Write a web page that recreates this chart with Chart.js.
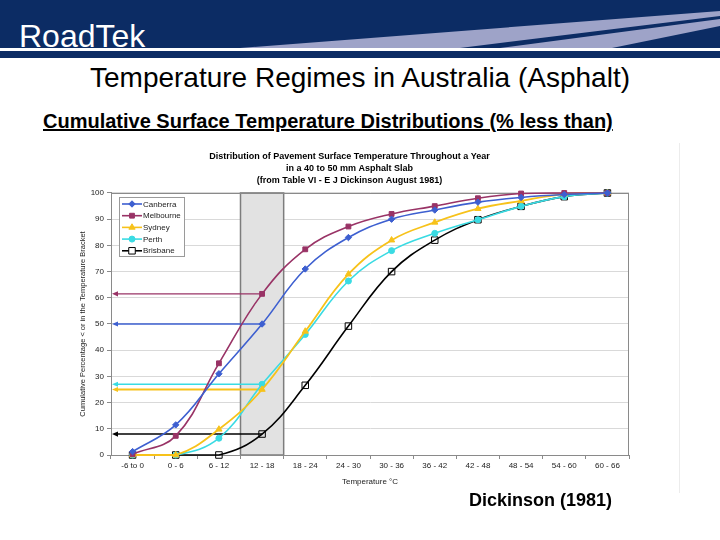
<!DOCTYPE html>
<html>
<head>
<meta charset="utf-8">
<script src="https://cdn.jsdelivr.net/npm/chart.js@4"></script>
<style>
html,body{margin:0;padding:0;background:#fff;}
#page{position:relative;width:720px;height:540px;overflow:hidden;font-family:'Liberation Sans',Arial,sans-serif;background:#fff;}
#banner{position:absolute;left:0;top:0;width:720px;height:48px;background:#0c2c64;}
#stripe{position:absolute;left:0;top:51px;width:720px;height:7px;background:#0c2c64;}
#swoosh{position:absolute;left:0;top:0;}
#brand{position:absolute;left:19px;top:20px;font-size:32px;line-height:32px;color:#fff;white-space:nowrap;}
#title{position:absolute;left:0;width:720px;top:64px;font-size:28px;line-height:28px;text-align:center;color:#000;white-space:nowrap;}
#sub{position:absolute;left:43px;top:111px;font-size:20px;line-height:20px;font-weight:bold;text-decoration:underline;color:#000;white-space:nowrap;}
#src{position:absolute;left:469px;top:491px;font-size:18px;line-height:18px;font-weight:bold;color:#000;white-space:nowrap;}
#frame{position:absolute;left:679px;top:143px;width:1px;height:350px;background:#ececec;}
#wrap{position:absolute;left:70px;top:140px;width:610px;height:360px;}
</style>
</head>
<body>
<div id="page">
  <div id="banner"></div>
  <svg id="swoosh" width="720" height="48">
    <polygon points="240,48 720,11 720,16 460,48" fill="#9ea3c8"/>
    <polygon points="500,48 720,19 720,26 612,48" fill="#9ea3c8"/>
  </svg>
  <div id="stripe"></div>
  <div id="brand">RoadTek</div>
  <div id="title">Temperature Regimes in Australia (Asphalt)</div>
  <div id="sub">Cumulative Surface Temperature Distributions (% less than)</div>
  <div id="frame"></div>
  <div id="wrap"><canvas id="c" width="610" height="360"></canvas></div>
  <div id="src">Dickinson (1981)</div>
</div>
<script>
// ---- data ----
const categories = ['-6 to 0','0 - 6','6 - 12','12 - 18','18 - 24','24 - 30','30 - 36','36 - 42','42 - 48','48 - 54','54 - 60','60 - 66'];
const canberra  = [1.3, 11.5, 31, 50, 71, 83, 90, 93.5, 96.5, 98.3, 99.4, 100];
const melbourne = [0.3, 7.3, 35, 61.5, 78.5, 87.2, 92, 95, 98, 99.8, 100, 100];
const sydney    = [0, 0, 9.8, 25, 47.2, 69, 82, 88.8, 94, 97, 99.6, 100];
const perth     = [0, 0, 6.4, 27, 46, 66.4, 78, 84.6, 89.8, 94.9, 98.6, 100];
const brisbane  = [0, 0, 0, 8, 26.6, 49.2, 70, 82, 89.8, 94.9, 98.6, 100];
const seriesNames = ['Canberra','Melbourne','Sydney','Perth','Brisbane'];
const highlightBracket = '12 - 18';
const chartTitle = ['Distribution of Pavement Surface Temperature Throughout a Year','in a 40 to 50 mm Asphalt Slab','(from Table VI - E J Dickinson August 1981)'];
const xTitle = 'Temperature \u00B0C';
const yTitle = 'Cumulative Percentage < or in the Temperature Bracket';

const FONT = "'Liberation Sans', Arial, sans-serif";
const colors = ['#3d5fd0','#993366','#f7c21a','#3adbe3','#000000'];
const styles = ['rectRot','rect','triangle','circle','rect'];
const radii = [3.2, 3.4, 3.6, 3, 4.6];
const values = [canberra, melbourne, sydney, perth, brisbane];

function drawMarker(ctx, style, x, y, r, fill, stroke) {
  ctx.beginPath();
  if (style === 'rect') { const s = r * Math.SQRT1_2; ctx.rect(x - s, y - s, 2*s, 2*s); }
  else if (style === 'rectRot') { ctx.moveTo(x - r, y); ctx.lineTo(x, y - r); ctx.lineTo(x + r, y); ctx.lineTo(x, y + r); ctx.closePath(); }
  else if (style === 'triangle') { ctx.moveTo(x, y - r); ctx.lineTo(x + r*0.87, y + r*0.5); ctx.lineTo(x - r*0.87, y + r*0.5); ctx.closePath(); }
  else { ctx.arc(x, y, r, 0, Math.PI*2); }
  if (fill) { ctx.fillStyle = fill; ctx.fill(); }
  if (stroke) { ctx.strokeStyle = stroke; ctx.lineWidth = 1; ctx.stroke(); }
}

const decor = {
  id: 'decor',
  beforeDatasetsDraw(chart) {
    const {ctx, chartArea: a, scales: {x, y}} = chart;
    const i = categories.indexOf(highlightBracket);
    const x0 = x.getPixelForValue(i - 0.5), x1 = x.getPixelForValue(i + 0.5);
    ctx.save();
    ctx.fillStyle = '#e2e2e2';
    ctx.fillRect(x0, a.top, x1 - x0, a.bottom - a.top);
    ctx.strokeStyle = '#7d7d7d'; ctx.lineWidth = 1.5;
    ctx.strokeRect(x0, a.top, x1 - x0, a.bottom - a.top);
    ctx.strokeStyle = '#8a8a8a'; ctx.lineWidth = 1;
    ctx.strokeRect(a.left + 0.5, a.top + 0.5, a.right - a.left - 1, a.bottom - a.top);
    // arrows from highlighted bracket to the y axis
    chart.data.datasets.forEach(ds => {
      const py = y.getPixelForValue(ds.data[i]);
      const px = x.getPixelForValue(i);
      ctx.strokeStyle = ds.borderColor; ctx.lineWidth = ds.label === 'Sydney' ? 2 : 1.4;
      ctx.beginPath(); ctx.moveTo(px, py); ctx.lineTo(a.left + 5, py); ctx.stroke();
      ctx.fillStyle = ds.borderColor;
      ctx.beginPath(); ctx.moveTo(a.left + 1, py); ctx.lineTo(a.left + 7, py - 2.6); ctx.lineTo(a.left + 7, py + 2.6); ctx.closePath(); ctx.fill();
    });
    ctx.restore();
  },
  afterDatasetsDraw(chart) {
    const {ctx, chartArea: a} = chart;
    const bx = a.left + 8, by = a.top + 4, bw = 65, bh = 59;
    ctx.save();
    ctx.fillStyle = '#fff'; ctx.fillRect(bx, by, bw, bh);
    ctx.strokeStyle = '#9a9a9a'; ctx.lineWidth = 1; ctx.strokeRect(bx + 0.5, by + 0.5, bw, bh);
    ctx.font = '8px ' + FONT; ctx.textBaseline = 'middle'; ctx.textAlign = 'left';
    chart.data.datasets.forEach((ds, k) => {
      const ry = by + 7 + k * 11.7;
      ctx.strokeStyle = ds.borderColor; ctx.lineWidth = 1.6;
      ctx.beginPath(); ctx.moveTo(bx + 3, ry); ctx.lineTo(bx + 23, ry); ctx.stroke();
      drawMarker(ctx, ds.pointStyle, bx + 13, ry, ds.pointRadius, ds.pointBackgroundColor === 'rgba(0,0,0,0)' ? '#fff' : ds.pointBackgroundColor, ds.pointBorderColor);
      ctx.fillStyle = '#222';
      ctx.fillText(ds.label, bx + 24, ry + 0.5);
    });
    ctx.restore();
  }
};

const datasets = seriesNames.map((name, k) => ({
  label: name,
  data: values[k],
  borderColor: colors[k],
  backgroundColor: colors[k],
  borderWidth: k === 2 ? 1.8 : 1.6,
  pointStyle: styles[k],
  pointRadius: radii[k],
  pointHoverRadius: radii[k],
  pointBackgroundColor: k === 4 ? 'rgba(0,0,0,0)' : colors[k],
  pointBorderColor: k === 4 ? '#000' : colors[k],
  pointBorderWidth: 1,
  tension: 0.4,
  fill: false,
  clip: false
}));

new Chart(document.getElementById('c'), {
  type: 'line',
  data: { labels: categories, datasets },
  plugins: [decor],
  options: {
    responsive: false,
    animation: false,
    events: [],
    layout: { padding: { left: 0, right: 51, top: 0, bottom: 5 } },
    plugins: {
      legend: { display: false },
      tooltip: { enabled: false },
      title: {
        display: true, text: chartTitle, color: '#000',
        font: { family: FONT, size: 9, weight: 'bold', lineHeight: 1.333 },
        padding: { top: 11, bottom: 6 }
      }
    },
    scales: {
      x: {
        offset: true,
        grid: { display: true, drawOnChartArea: false, drawTicks: true, tickLength: 4, offset: true, color: '#8a8a8a', tickColor: '#8a8a8a' },
        border: { display: true, color: '#8a8a8a' },
        ticks: { color: '#222', font: { family: FONT, size: 8 }, padding: 2, maxRotation: 0, autoSkip: false },
        title: { display: true, text: xTitle, color: '#222', font: { family: FONT, size: 8 }, padding: { top: 2, bottom: 8 } },
        afterFit(s) { s.height = 40; }
      },
      y: {
        min: 0, max: 100,
        grid: { color: '#d9d9d9', lineWidth: 1, tickLength: 4, tickColor: '#8a8a8a' },
        border: { display: true, color: '#8a8a8a' },
        ticks: { stepSize: 10, color: '#222', font: { family: FONT, size: 8 }, padding: 3 },
        title: { display: true, text: yTitle, color: '#222', font: { family: FONT, size: 7.5 }, padding: { top: 8, bottom: 0 } },
        afterFit(s) { s.width = 41; }
      }
    }
  }
});
</script>
</body>
</html>
